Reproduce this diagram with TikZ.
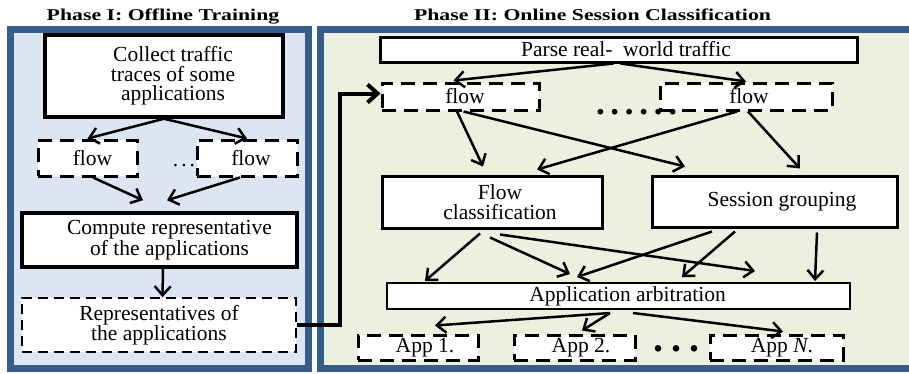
\documentclass[tikz,border=0pt]{standalone}
\usepackage{fontspec}
\usepackage{graphicx}
\setmainfont{Liberation Serif}
\usetikzlibrary{arrows.meta}
\definecolor{panelblue}{HTML}{385D8A}
\definecolor{trainfill}{HTML}{DCE6F2}
\definecolor{onlinefill}{HTML}{EBF1DE}

\begin{document}
\begin{tikzpicture}[x=1pt, y=-1pt,
  box/.style={draw, fill=white, line width=3pt, inner sep=0pt},
  dbox/.style={box, dash pattern=on 14pt off 8pt},
  txt/.style={inner sep=0pt, align=center, font=\fontsize{21.5}{19.5}\selectfont},
  arr/.style={line width=2.5pt, -{Straight Barb[length=9pt,width=16pt]}},
  title/.style={anchor=base, font=\fontsize{16.5}{18}\selectfont\bfseries},
  dotrow/.style={anchor=base, inner sep=0pt, font=\bfseries}]

\useasboundingbox (0,0) rectangle (909,373);

\draw[panelblue, line width=7pt, fill=trainfill] (10,29) rectangle (308,368);
\draw[panelblue, line width=7pt, fill=onlinefill] (320,29) rectangle (913,368);

\node[title] (phasea) at (163,20.5) {\scalebox{1.32}[1]{Phase I: Offline Training}};
\node[title] (phaseb) at (592.5,20.5) {\scalebox{1.32}[1]{Phase II: Online Session Classification}};

\node[box, line width=3.5pt, minimum width=238pt, minimum height=82pt,
  label={[txt, xshift=9pt]center:Collect traffic\\traces of some\\applications}] (collect) at (164,76) {};
\node[dbox, minimum width=99pt, minimum height=36pt,
  label={[txt, xshift=5pt]center:flow}] (flowa) at (87.5,158) {};
\node[dbox, minimum width=100pt, minimum height=36pt,
  label={[txt, xshift=4pt]center:flow}] (flowb) at (247,158) {};
\node[dotrow, font=\fontsize{21.5}{20}\selectfont] (dotsa) at (184,166) {.\kern3pt.\kern3pt.};
\node[box, line width=3.5pt, minimum width=275pt, minimum height=54pt,
  label={[txt, xshift=10pt, font=\fontsize{21.5}{17}\selectfont]center:Compute representative\\of the applications}]
  (compute) at (159.5,240) {};
\node[dbox, line width=1.8pt, dash pattern=on 10pt off 6pt, minimum width=274pt, minimum height=54pt,
  label={[txt]center:Representatives of\\the applications}] (repr) at (159,325) {};

\node[box, minimum width=477pt, minimum height=25pt,
  label={[txt, xshift=7.5pt]center:Parse real-~ world traffic}] (parse) at (618.5,49.5) {};
\node[dbox, minimum width=157pt, minimum height=27pt,
  label={[txt, xshift=4.5pt]center:flow}] (flow1) at (460.5,96.5) {};
\node[dbox, minimum width=172pt, minimum height=27pt,
  label={[txt, xshift=3pt]center:flow}] (flow2) at (746,96.5) {};
\node[dotrow, font=\fontsize{35}{35}\selectfont\bfseries] (dotsb) at (636.5,114)
  {.\kern5.7pt.\kern5.7pt.\kern5.7pt.\kern5.7pt.\kern5.7pt.};
\node[box, minimum width=220pt, minimum height=52pt,
  label={[txt, xshift=8pt]center:Flow\\classification}] (flowcls) at (492,202) {};
\node[box, minimum width=245pt, minimum height=51pt,
  label={[txt, xshift=7.5pt]center:Session grouping}] (session) at (774.5,201.5) {};
\node[box, line width=2pt, minimum width=463pt, minimum height=26pt,
  label={[txt, xshift=9pt]center:Application arbitration}] (arb) at (618.5,296) {};
\node[dbox, minimum width=120pt, minimum height=25pt,
  label={[txt, xshift=7pt]center:App 1.}] (app1) at (418,347.5) {};
\node[dbox, minimum width=121pt, minimum height=25pt,
  label={[txt, xshift=6.5pt]center:App 2.}] (app2) at (574.5,347.5) {};
\node[dbox, minimum width=133pt, minimum height=25pt,
  label={[txt, xshift=5.5pt]center:App \textit{N}.}] (appn) at (776.5,347.5) {};
\node[dotrow, font=\fontsize{40}{40}\selectfont\bfseries] (dotsc) at (676.5,351)
  {.\kern8pt.\kern8pt.};

\draw[arr] (collect.south) -- (flowa.north);
\draw[arr] (collect.south) -- (flowb.north);
\draw[arr] ([xshift=5.5pt]flowa.south) -- ([xshift=-16.5pt,yshift=11pt]compute.north);
\draw[arr] ([xshift=-7pt]flowb.south) -- ([xshift=7.5pt,yshift=11pt]compute.north);
\draw[arr] ([xshift=3.5pt]compute.south) -- ([xshift=3.5pt]repr.north);
\draw[line width=4pt, -{Straight Barb[length=10pt,width=18pt]}]
  (repr.east) -- ++(43,0) |- ([yshift=3pt]flow1.west);

\draw[arr] ([xshift=-5pt]parse.south) -- ([xshift=-7pt,yshift=1pt]flow1.north);
\draw[arr] ([xshift=2pt]parse.south) -- (flow2.north);
\draw[arr] ([xshift=-3.5pt]flow1.south) -- ([xshift=-9pt,yshift=8pt]flowcls.north);
\draw[arr] ([xshift=3pt]flow1.south) -- ([xshift=-89.5pt,yshift=8pt]session.north);
\draw[arr] ([xshift=-9pt]flow2.south) -- ([xshift=45pt,yshift=5pt]flowcls.north);
\draw[arr] ([xshift=2pt]flow2.south) -- ([xshift=25.5pt,yshift=6pt]session.north);

\draw[arr] ([xshift=-12pt,yshift=-4pt]flowcls.south) -- ([xshift=-193.5pt,yshift=1pt]arb.north);
\draw[arr] ([xshift=-2pt,yshift=-8pt]flowcls.south) -- ([xshift=-48.5pt,yshift=8pt]arb.north);
\draw[arr] ([xshift=8pt,yshift=-5pt]flowcls.south) -- ([xshift=136.5pt,yshift=11pt]arb.north);
\draw[arr] ([xshift=-62.5pt,yshift=-3pt]session.south) -- ([xshift=-41.5pt,yshift=5pt]arb.north);
\draw[arr] ([xshift=-39.5pt,yshift=-3pt]session.south) -- ([xshift=63.5pt,yshift=5pt]arb.north);
\draw[arr] ([xshift=42.5pt,yshift=-4pt]session.south) -- ([xshift=196.5pt,yshift=1pt]arb.north);

\draw[arr] ([xshift=-8.5pt,yshift=-3pt]arb.south) -- ([xshift=17pt,yshift=8pt]app1.north);
\draw[arr] ([xshift=-8.5pt,yshift=-3pt]arb.south) -- ([xshift=7.5pt,yshift=3pt]app2.north);
\draw[arr] ([xshift=14.5pt,yshift=-3pt]arb.south) -- ([xshift=6.5pt,yshift=2pt]appn.north);
\end{tikzpicture}
\end{document}
